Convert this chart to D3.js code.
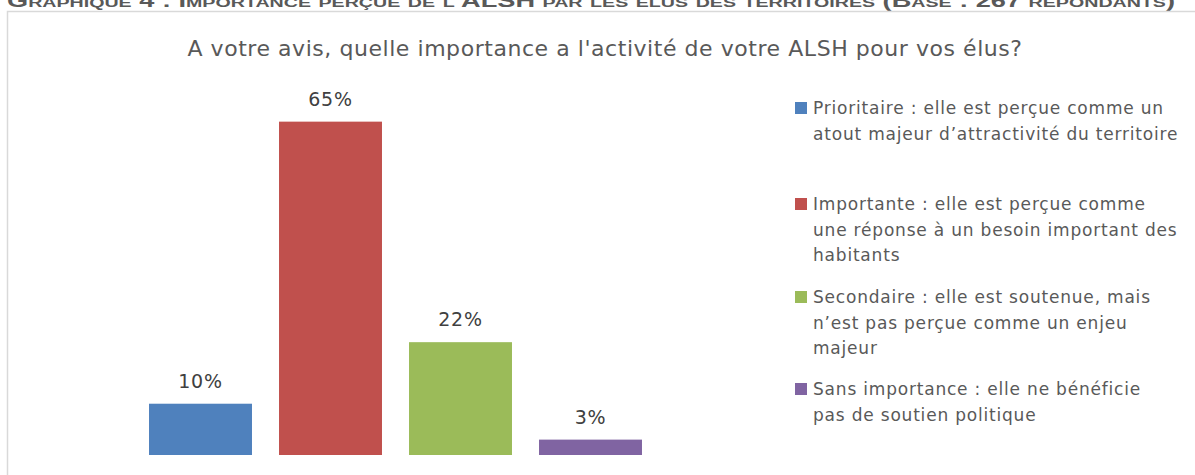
<!DOCTYPE html>
<html>
<head>
<meta charset="utf-8">
<script src="https://cdn.jsdelivr.net/npm/d3@7"></script>
<style>
  body { margin: 0; background: #fff; }
  svg { display: block; }
</style>
</head>
<body>
<div id="chart"></div>
<script>
// Chart data
const categories = ["Prioritaire", "Importante", "Secondaire", "Sans importance"];
const values = [10, 65, 22, 3];
const valueLabels = ["10%", "65%", "22%", "3%"];
const colors = ["#4F81BD", "#C0504D", "#9BBB59", "#8064A2"];
const legendLines = [
  ["Prioritaire : elle est perçue comme un", "atout majeur d\u2019attractivité du territoire"],
  ["Importante : elle est perçue comme", "une réponse à un besoin important des", "habitants"],
  ["Secondaire : elle est soutenue, mais", "n\u2019est pas perçue comme un enjeu", "majeur"],
  ["Sans importance : elle ne bénéficie", "pas de soutien politique"]
];
const chartTitle = "A votre avis, quelle importance a l'activité de votre ALSH pour vos élus?";
const captionText = "Graphique 4 : Importance perçue de l'ALSH par les élus des territoires (Base : 267 répondants)";

const W = 1195, H = 475;
const font = "'DejaVu Sans', sans-serif";

const svg = d3.select("#chart")
  .append("svg")
  .attr("width", W)
  .attr("height", H);

// Caption above the frame (cut off at top, as in the source)
svg.append("text")
  .attr("x", 7)
  .attr("y", 7)
  .attr("font-family", "'Liberation Sans', Arial, sans-serif")
  .attr("font-weight", "bold")
  .attr("font-size", 18)
  .style("font-variant", "small-caps")
  .attr("fill", "#595959")
  .attr("textLength", 1168)
  .attr("lengthAdjust", "spacingAndGlyphs")
  .text(captionText);

// Frame
svg.append("path")
  .attr("d", `M7.5,${H} V11.5 H${W}`)
  .attr("fill", "none")
  .attr("stroke", "#d9d9d9")
  .attr("stroke-width", 1.5);

// Title
svg.append("text")
  .attr("x", 605)
  .attr("y", 56)
  .attr("text-anchor", "middle")
  .attr("font-family", font)
  .attr("font-size", 22)
  .attr("letter-spacing", 0.55)
  .attr("fill", "#595959")
  .text(chartTitle);

// Scales
const x = d3.scaleBand()
  .domain(categories)
  .range([135.5, 655.5])
  .paddingInner(0.208)
  .paddingOuter(0.104);

const y = d3.scaleLinear()
  .domain([0, 70])
  .range([455, 96]);

// Bars
svg.selectAll(".bar")
  .data(values)
  .enter()
  .append("rect")
  .attr("class", "bar")
  .attr("x", (d, i) => x(categories[i]))
  .attr("y", d => y(d))
  .attr("width", x.bandwidth())
  .attr("height", d => y(0) - y(d))
  .attr("fill", (d, i) => colors[i]);

// Value labels
svg.selectAll(".label")
  .data(values)
  .enter()
  .append("text")
  .attr("class", "label")
  .attr("x", (d, i) => x(categories[i]) + x.bandwidth() / 2)
  .attr("y", d => y(d) - 16)
  .attr("text-anchor", "middle")
  .attr("font-family", font)
  .attr("font-size", 19)
  .attr("letter-spacing", 0.8)
  .attr("fill", "#404040")
  .text((d, i) => valueLabels[i]);

// Legend
const legendY = [108, 204, 297, 389];
const lineH = 25.5;
const legend = svg.selectAll(".legend")
  .data(legendLines)
  .enter()
  .append("g")
  .attr("class", "legend")
  .attr("transform", (d, i) => `translate(795,${legendY[i]})`);

legend.append("rect")
  .attr("x", 0)
  .attr("y", -6)
  .attr("width", 12)
  .attr("height", 12)
  .attr("fill", (d, i) => colors[i]);

legend.append("text")
  .attr("font-family", font)
  .attr("font-size", 17)
  .attr("letter-spacing", 0.8)
  .attr("fill", "#595959")
  .selectAll("tspan")
  .data(d => d)
  .enter()
  .append("tspan")
  .attr("x", 18)
  .attr("y", (d, j) => j * lineH + 6)
  .text(d => d);
</script>
</body>
</html>
